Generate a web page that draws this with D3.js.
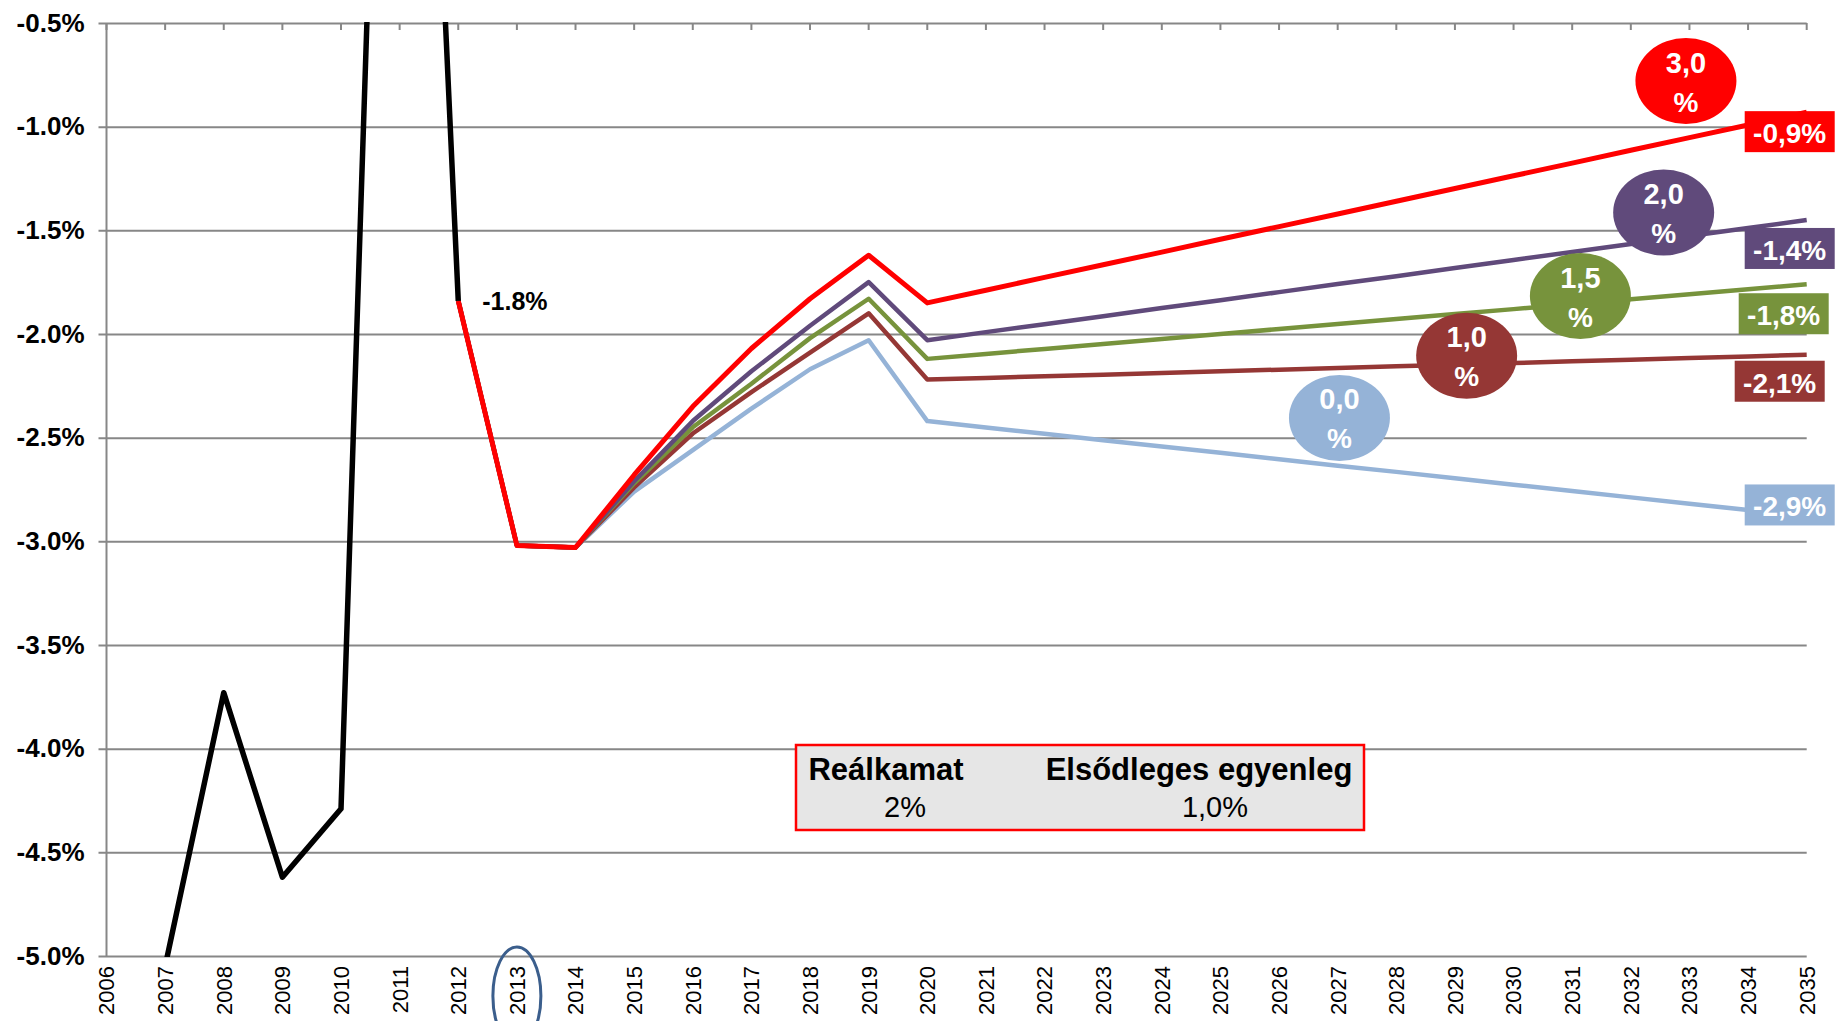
<!DOCTYPE html>
<html>
<head>
<meta charset="utf-8">
<script src="https://cdn.jsdelivr.net/npm/d3@7/dist/d3.min.js"></script>
<style>
  body { margin: 0; background: #fff; }
  svg { display: block; font-family: "Liberation Sans", Arial, sans-serif; }
</style>
</head>
<body>
<div id="chart"></div>
<script>
// categories (x axis)
var years = ["2006", "2007", "2008", "2009", "2010", "2011", "2012", "2013", "2014", "2015",
    "2016", "2017", "2018", "2019", "2020", "2021", "2022", "2023", "2024", "2025",
    "2026", "2027", "2028", "2029", "2030", "2031", "2032", "2033", "2034", "2035"];

var yTicks = [-5.0, -4.5, -4.0, -3.5, -3.0, -2.5, -2.0, -1.5, -1.0, -0.5];

// actual balance, % of GDP
var actual = [null, -5.05, -3.73, -4.62, -4.29, 4.30, -1.84, null, null, null,
    null, null, null, null, null, null, null, null, null, null,
    null, null, null, null, null, null, null, null, null, null];

// scenarios by growth rate
var g00 = [null, null, null, null, null, null, -1.84, -3.02, -3.03, -2.76,
    -2.56, -2.36, -2.17, -2.03, -2.42, -2.451, -2.481, -2.512, -2.543, -2.573,
    -2.604, -2.635, -2.665, -2.696, -2.727, -2.757, -2.788, -2.819, -2.849, -2.88];
var g10 = [null, null, null, null, null, null, -1.84, -3.02, -3.03, -2.74,
    -2.48, -2.28, -2.09, -1.90, -2.22, -2.212, -2.204, -2.196, -2.188, -2.18,
    -2.172, -2.164, -2.156, -2.148, -2.14, -2.132, -2.124, -2.116, -2.108, -2.10];
var g15 = [null, null, null, null, null, null, -1.84, -3.02, -3.03, -2.72,
    -2.45, -2.24, -2.02, -1.83, -2.12, -2.096, -2.072, -2.048, -2.024, -2.00,
    -1.976, -1.952, -1.928, -1.904, -1.88, -1.856, -1.832, -1.808, -1.784, -1.76];
var g20 = [null, null, null, null, null, null, -1.84, -3.02, -3.03, -2.71,
    -2.42, -2.18, -1.96, -1.75, -2.03, -1.991, -1.953, -1.914, -1.875, -1.837,
    -1.798, -1.759, -1.721, -1.682, -1.643, -1.605, -1.566, -1.527, -1.489, -1.45];
var g30 = [null, null, null, null, null, null, -1.84, -3.02, -3.03, -2.68,
    -2.35, -2.07, -1.83, -1.62, -1.85, -1.789, -1.727, -1.666, -1.605, -1.543,
    -1.482, -1.421, -1.36, -1.298, -1.237, -1.176, -1.114, -1.053, -0.992, -0.93];

var scenarioNames = ["0,0", "1,0", "1,5", "2,0", "3,0"];
var scenarioColors = ["#95b3d7", "#953735", "#77933c", "#604a7b", "#ff0000"];
var endLabels = ["-2,9%", "-2,1%", "-1,8%", "-1,4%", "-0,9%"];

var tableHead = ["Reálkamat", "Elsődleges egyenleg"];
var tableVals = ["2%", "1,0%"];

var width = 1836,
    height = 1021;

var svg = d3.select("#chart")
    .append("svg")
    .attr("width", width)
    .attr("height", height);

var x = d3.scaleLinear()
    .domain([2006, 2035])
    .range([106.5, 1806.7]);

var y = d3.scaleLinear()
    .domain([-5, -0.5])
    .range([956, 23]);

svg.append("clipPath")
    .attr("id", "plot")
    .append("rect")
    .attr("x", x(2006))
    .attr("y", y(-0.5) - 1)
    .attr("width", x(2035) - x(2006) + 10)
    .attr("height", y(-5) - y(-0.5) + 2);

// gridlines + left ticks
var yAxis = d3.axisLeft(y)
    .tickValues(yTicks)
    .tickSize(-(x(2035) - x(2006)))
    .tickPadding(22)
    .tickFormat(function (d) { return d.toFixed(1) + "%"; });

var gy = svg.append("g")
    .attr("transform", "translate(" + x(2006) + ",0)")
    .call(yAxis);

gy.select(".domain").remove();
gy.selectAll(".tick line")
    .attr("x1", -8)
    .attr("stroke", "#878787")
    .attr("stroke-width", 2);
gy.selectAll(".tick text")
    .attr("fill", "#000")
    .style("font-size", "26px")
    .style("font-weight", "bold")
    .style("font-family", "'Liberation Sans', Arial, sans-serif");

svg.append("line")
    .attr("x1", x(2006)).attr("x2", x(2006))
    .attr("y1", y(-0.5)).attr("y2", y(-5))
    .attr("stroke", "#878787")
    .attr("stroke-width", 2);

// category axis sits at the top, labels at the bottom
svg.append("g")
    .selectAll("line")
    .data(years)
    .enter()
    .append("line")
    .attr("x1", function (d) { return x(+d); })
    .attr("x2", function (d) { return x(+d); })
    .attr("y1", y(-0.5))
    .attr("y2", y(-0.5) + 7)
    .attr("stroke", "#878787")
    .attr("stroke-width", 2);

svg.append("g")
    .selectAll("text")
    .data(years)
    .enter()
    .append("text")
    .attr("transform", function (d) { return "translate(" + x(+d) + ",966) rotate(-90)"; })
    .attr("dy", "0.36em")
    .attr("text-anchor", "end")
    .style("font-size", "22px")
    .text(function (d) { return d; });

// the 2013 mark
svg.append("ellipse")
    .attr("cx", x(2013))
    .attr("cy", 996)
    .attr("rx", 24)
    .attr("ry", 49)
    .attr("fill", "none")
    .attr("stroke", "#3b5e8c")
    .attr("stroke-width", 3);

var line = d3.line()
    .defined(function (d) { return d != null; })
    .x(function (d, i) { return x(+years[i]); })
    .y(function (d) { return y(d); });

var lines = svg.append("g").attr("clip-path", "url(#plot)");

var scenarios = [g00, g10, g15, g20, g30];

scenarios.forEach(function (s, i) {
    lines.append("path")
        .attr("d", line(s))
        .attr("fill", "none")
        .attr("stroke", scenarioColors[i])
        .attr("stroke-width", i == 4 ? 5 : 4.5)
        .attr("stroke-linejoin", "round");
});

lines.append("path")
    .attr("d", line(actual))
    .attr("fill", "none")
    .attr("stroke", "#000")
    .attr("stroke-width", 5.5)
    .attr("stroke-linejoin", "round");

svg.append("text")
    .attr("x", x(2012) + 24)
    .attr("y", y(actual[6]))
    .attr("dy", "0.36em")
    .style("font-size", "25px")
    .style("font-weight", "bold")
    .text(actual[6].toFixed(1) + "%");

// bubbles with the growth rate
var bubbleAt = [[2027.03, -2.405], [2029.2, -2.105], [2031.14, -1.817], [2032.56, -1.414], [2032.94, -0.78]];

var bubbles = svg.append("g")
    .selectAll("g")
    .data(scenarioNames)
    .enter()
    .append("g")
    .attr("transform", function (d, i) {
        return "translate(" + x(bubbleAt[i][0]) + "," + y(bubbleAt[i][1]) + ")";
    });

bubbles.append("ellipse")
    .attr("rx", 50.5)
    .attr("ry", 43)
    .attr("fill", function (d, i) { return scenarioColors[i]; });

bubbles.append("text")
    .attr("y", -8.5)
    .attr("text-anchor", "middle")
    .attr("fill", "#fff")
    .style("font-size", "29px")
    .style("font-weight", "bold")
    .text(function (d) { return d; });

bubbles.append("text")
    .attr("y", 30.5)
    .attr("text-anchor", "middle")
    .attr("fill", "#fff")
    .style("font-size", "28px")
    .style("font-weight", "bold")
    .text("%");

// end-of-line value boxes
var boxDx = [-62, -72, -68, -62, -62],
    boxDy = [-32, 6, 9, 8, -1];

var ends = svg.append("g")
    .selectAll("g")
    .data(endLabels)
    .enter()
    .append("g")
    .attr("transform", function (d, i) {
        return "translate(" + (x(2035) + boxDx[i]) + "," + (y(scenarios[i][29]) + boxDy[i]) + ")";
    });

ends.append("rect")
    .attr("width", 90)
    .attr("height", 41)
    .attr("fill", function (d, i) { return scenarioColors[i]; });

ends.append("text")
    .attr("x", 45)
    .attr("y", 32)
    .attr("text-anchor", "middle")
    .attr("fill", "#fff")
    .style("font-size", "28px")
    .style("font-weight", "bold")
    .text(function (d) { return d; });

// assumptions table
var tbl = svg.append("g");

tbl.append("rect")
    .attr("x", 796)
    .attr("y", 745)
    .attr("width", 568)
    .attr("height", 85)
    .attr("fill", "#e6e6e6")
    .attr("stroke", "#ff0000")
    .attr("stroke-width", 2.5);

var colX = [886, 1199],
    valX = [905, 1215];

tableHead.forEach(function (t, i) {
    tbl.append("text")
        .attr("x", colX[i])
        .attr("y", 780)
        .attr("text-anchor", "middle")
        .style("font-size", "31px")
        .style("font-weight", "bold")
        .text(t);
    tbl.append("text")
        .attr("x", valX[i])
        .attr("y", 817)
        .attr("text-anchor", "middle")
        .style("font-size", "29px")
        .text(tableVals[i]);
});
</script>
</body>
</html>
